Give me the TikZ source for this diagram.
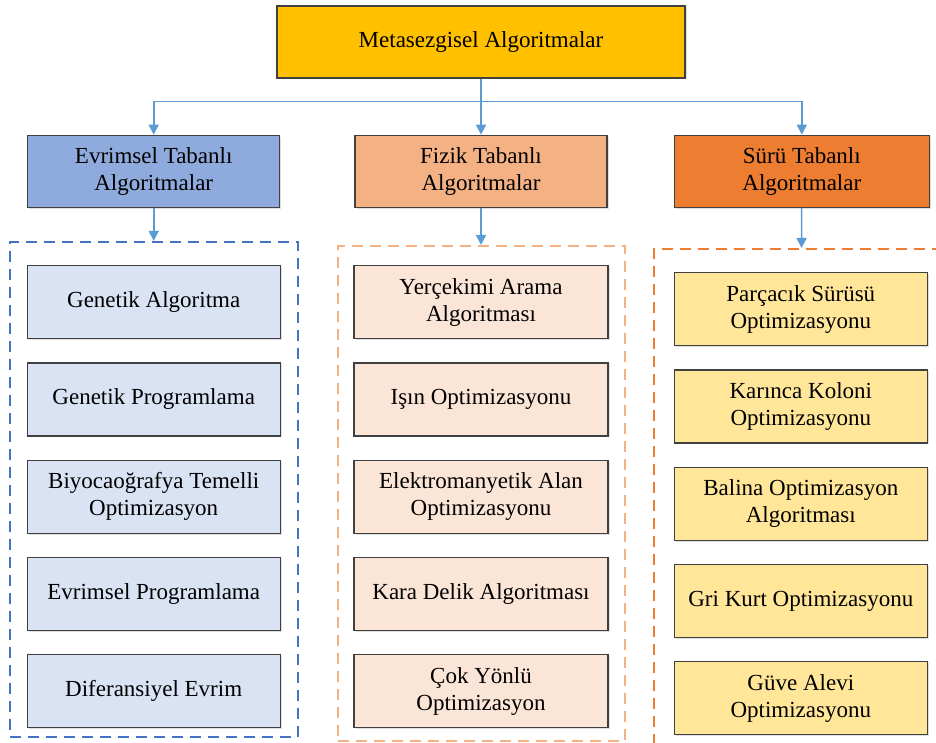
\documentclass[tikz,border=0pt]{standalone}
\usepackage{fontspec}
\setmainfont{Liberation Serif}
\usetikzlibrary{arrows.meta,positioning,shadows}
\definecolor{topfill}{HTML}{FFC000}
\definecolor{evrhead}{HTML}{8FAADC}
\definecolor{fizhead}{HTML}{F4B183}
\definecolor{surhead}{HTML}{ED7D31}
\definecolor{evritem}{HTML}{DAE3F3}
\definecolor{fizitem}{HTML}{FBE5D6}
\definecolor{suritem}{HTML}{FFE699}
\definecolor{linkblue}{HTML}{5B9BD5}
\definecolor{evrdash}{HTML}{4472C4}
\definecolor{boxline}{HTML}{404040}

\begin{document}
\begin{tikzpicture}[>={Triangle[length=10pt,width=10pt]},auto]
        \tikzstyle{base}=[draw=boxline,line width=1.3pt,align=center,
                          font=\fontsize{23}{27}\selectfont,
                          drop shadow={shadow xshift=1.5pt,shadow yshift=-1.5pt,opacity=0.25}]
        \tikzstyle{head}=[base,minimum width=252pt,minimum height=72pt]
        \tikzstyle{item}=[base,minimum width=253pt,minimum height=73pt]
        \tikzstyle{frame}=[line width=2pt,dash pattern=on 11pt off 7pt,minimum height=495pt]
        \tikzstyle{link}=[draw=linkblue,line width=1.6pt,->]

        \useasboundingbox (0,0) rectangle (936pt,743pt);

        \node[base,fill=topfill,minimum width=408pt,minimum height=72pt] (M00) at (481pt,701pt)
              {Metasezgisel Algoritmalar};
        \node[head,fill=fizhead]  (F00) [below=56pt of M00]  {Fizik Tabanlı\\Algoritmalar};
        \node[head,fill=evrhead]  (E00) [left=74pt of F00]   {Evrimsel Tabanlı\\Algoritmalar};
        \node[head,fill=surhead,minimum width=255pt] (S00) [right=66pt of F00] {Sürü Tabanlı\\Algoritmalar};
        \coordinate[below=23pt of M00.south] (C00);

        % dashed groups
        \node[frame,draw=evrdash,minimum width=288pt]  (EB) [below=33pt of E00] {};
        \node[frame,draw=fizhead,minimum width=287pt]  (FB) [below=37pt of F00] {};
        \node[frame,draw=surhead,minimum width=293pt,xshift=-1pt] (SB) [below=40pt of S00] {};

        % Evrimsel
        \node[item,fill=evritem]  (E01) [below=24pt of EB.north] {Genetik Algoritma};
        \node[item,fill=evritem]  (E02) [below=23pt of E01]      {Genetik Programlama};
        \node[item,fill=evritem]  (E03) [below=23pt of E02]      {Biyocaoğrafya Temelli\\Optimizasyon};
        \node[item,fill=evritem]  (E04) [below=23pt of E03]      {Evrimsel Programlama};
        \node[item,fill=evritem]  (E05) [below=23pt of E04]      {Diferansiyel Evrim};
        % Fizik
        \node[item,fill=fizitem,minimum width=254pt] (F01) [below=20pt of FB.north] {Yerçekimi Arama\\Algoritması};
        \node[item,fill=fizitem,minimum width=254pt] (F02) [below=23pt of F01]      {Işın Optimizasyonu};
        \node[item,fill=fizitem,minimum width=254pt] (F03) [below=23pt of F02]      {Elektromanyetik Alan\\Optimizasyonu};
        \node[item,fill=fizitem,minimum width=254pt] (F04) [below=23pt of F03]      {Kara Delik Algoritması};
        \node[item,fill=fizitem,minimum width=254pt] (F05) [below=23pt of F04]      {Çok Yönlü\\Optimizasyon};
        % Sürü
        \node[item,fill=suritem]  (S01) [below=24pt of SB.north] {Parçacık Sürüsü\\Optimizasyonu};
        \node[item,fill=suritem]  (S02) [below=23pt of S01]      {Karınca Koloni\\Optimizasyonu};
        \node[item,fill=suritem]  (S03) [below=23pt of S02]      {Balina Optimizasyon\\Algoritması};
        \node[item,fill=suritem]  (S04) [below=23pt of S03]      {Gri Kurt Optimizasyonu};
        \node[item,fill=suritem]  (S05) [below=23pt of S04]      {Güve Alevi\\Optimizasyonu};

        \draw[link] (M00) -- (F00);
        \draw[link] (C00) -| (E00);
        \draw[link] (C00) -| (S00);
        \draw[link] (E00) -- (EB);
        \draw[link] (F00) -- (FB);
        \draw[link] (S00) -- (SB);
\end{tikzpicture}
\end{document}
